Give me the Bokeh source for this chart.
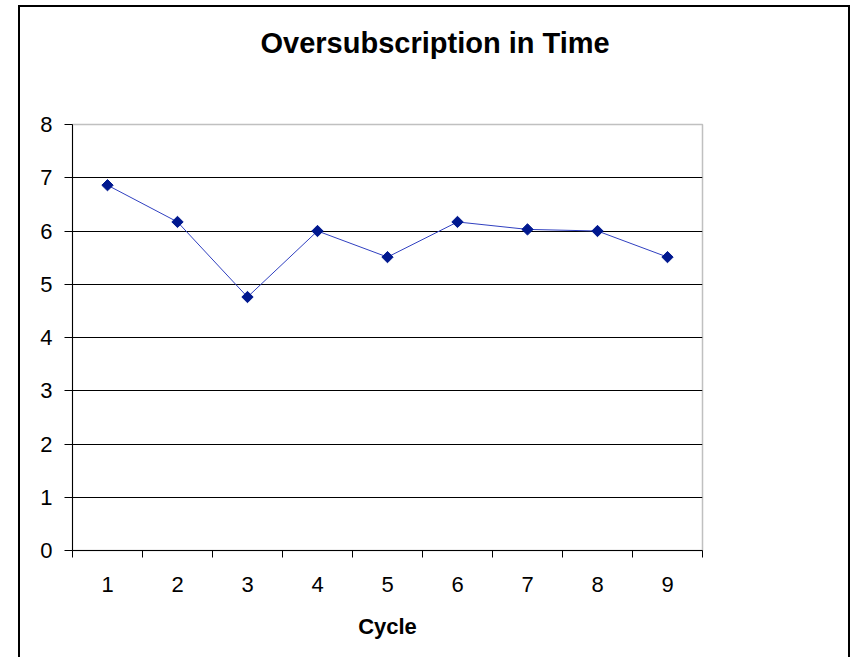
import numpy as np
from bokeh.plotting import figure
from bokeh.models import FixedTicker, Title, Range1d, ColumnDataSource
from bokeh.embed import file_html
from bokeh.resources import INLINE

# ---- data ----
cycles = [1, 2, 3, 4, 5, 6, 7, 8, 9]
cycle_labels = ["1", "2", "3", "4", "5", "6", "7", "8", "9"]
oversubscription = [6.86, 6.17, 4.76, 6.00, 5.51, 6.17, 6.03, 6.00, 5.51]
y_ticks = [0, 1, 2, 3, 4, 5, 6, 7, 8]
title_text = "Oversubscription in Time"
x_title = "Cycle"

# canvas placed at (20, 7) on the page by margin + border
OX, OY = 20, 7
W, H = 832, 652
FONT = "Liberation Sans"

p = figure(width=W, height=H, output_backend="svg", toolbar_location=None,
           title=None,
           x_range=Range1d(0.5, len(cycles) + 0.5), y_range=Range1d(0, 8),
           min_border_left=72 - OX, min_border_right=W - (702 - OX),
           min_border_top=124 - OY, min_border_bottom=H - (550 - OY))

p.styles = {"margin-left": "18px", "margin-top": "5px",
            "border-left": "2px solid black", "border-top": "2px solid black",
            "border-right": "2px solid black"}

p.background_fill_color = "white"
p.border_fill_color = "white"
p.outline_line_color = "#c0c0c0"
p.outline_line_width = 1.5

# x axis: ticks between categories, labels at centres
xt = FixedTicker(ticks=cycles, minor_ticks=[c - 0.5 for c in cycles] + [cycles[-1] + 0.5])
p.xaxis.ticker = xt
p.xaxis.major_label_overrides = {c: l for c, l in zip(cycles, cycle_labels)}
p.xaxis.major_tick_out = 0
p.xaxis.major_tick_in = 0
p.xaxis.minor_tick_out = 7
p.xaxis.minor_tick_in = 0
p.xaxis.minor_tick_line_color = "black"
p.xaxis.axis_line_color = "black"
p.xaxis.major_label_standoff = 19
p.xaxis.major_label_text_font = FONT
p.xaxis.major_label_text_font_size = "22px"
p.xaxis.major_label_text_color = "black"
p.xaxis.axis_label = x_title
p.xaxis.axis_label_text_font = FONT
p.xaxis.axis_label_text_font_size = "22px"
p.xaxis.axis_label_text_font_style = "bold"
p.xaxis.axis_label_text_color = "black"
p.xaxis.axis_label_standoff = 19
p.xgrid.visible = False

# y axis
p.yaxis.ticker = FixedTicker(ticks=y_ticks)
p.yaxis.major_tick_out = 8
p.yaxis.major_tick_in = 0
p.yaxis.minor_tick_out = 0
p.yaxis.minor_tick_in = 0
p.yaxis.axis_line_color = "black"
p.yaxis.major_tick_line_color = "black"
p.yaxis.major_label_standoff = 12
p.yaxis.major_label_text_font = FONT
p.yaxis.major_label_text_font_size = "22px"
p.yaxis.major_label_text_color = "black"
p.ygrid.grid_line_color = "black"
p.ygrid.grid_line_width = 1

src = ColumnDataSource(dict(x=cycles, y=oversubscription))
p.line("x", "y", source=src, line_color="#3040c0", line_width=1)
p.scatter("x", "y", source=src, marker="square", size=8, angle=np.pi / 4,
          fill_color="#00188f", line_color="#00188f")

# spacer between plot area and title, then the title (centred on the chart box)
p.add_layout(Title(text=" ", standoff=48, text_font=FONT, text_font_size="10px"), "above")
p.add_layout(Title(text=title_text, align="left", offset=188, standoff=10,
                   text_font=FONT, text_font_size="29px", text_font_style="bold",
                   text_color="black"), "above")

open("out.html", "w").write(file_html(p, INLINE))
